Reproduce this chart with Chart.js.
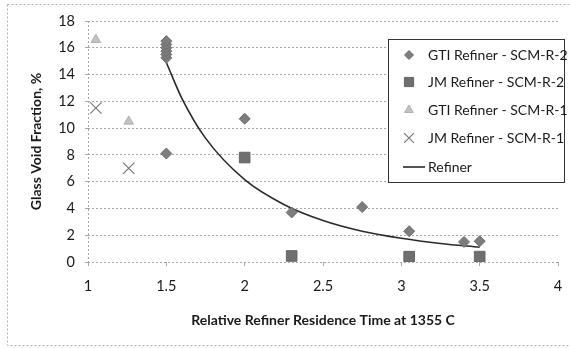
<!DOCTYPE html>
<html>
<head>
<meta charset="utf-8">
<script src="https://cdn.jsdelivr.net/npm/chart.js@4.4.1/dist/chart.umd.min.js"></script>
<style>
  html, body { margin: 0; padding: 0; background: #fff; }
  #wrap { width: 570px; height: 349px; }
</style>
</head>
<body>
<div id="wrap"><canvas id="chart" width="570" height="349"></canvas></div>
<script>
// series
const gtiR2X = [1.5, 1.5, 1.5, 1.5, 1.5, 1.5, 1.5, 2, 2.3, 2.75, 3.05, 3.4, 3.5];
const gtiR2Y = [15.25, 15.5, 15.75, 16.0, 16.25, 16.5, 8.1, 10.7, 3.7, 4.1, 2.3, 1.5, 1.55];
const jmR2X = [2, 2.3, 3.05, 3.5];
const jmR2Y = [7.8, 0.45, 0.4, 0.4];
const gtiR1X = [1.05, 1.26];
const gtiR1Y = [16.6, 10.5];
const jmR1X = [1.05, 1.26];
const jmR1Y = [11.5, 7.0];
// refiner curve, points
const refinerX = [1.5, 1.6, 1.75, 2, 2.25, 2.5, 2.75, 3, 3.25, 3.5];
const refinerY = [14.9, 12.2, 9.25, 6.15, 4.3, 3.1, 2.3, 1.77, 1.38, 1.1];

const seriesLabels = ['GTI Refiner - SCM-R-2', 'JM Refiner - SCM-R-2', 'GTI Refiner - SCM-R-1', 'JM Refiner - SCM-R-1', 'Refiner'];
const xTitle = 'Relative Refiner Residence Time at 1355 C';
const yTitle = 'Glass Void Fraction, %';

const pts = (xs, ys) => xs.map((x, i) => ({x: x, y: ys[i]}));

const FONT = 'Lato, "Liberation Sans", sans-serif';

// frame around the whole picture
const framePlugin = {
  id: 'frame',
  beforeDraw(chart) {
    const ctx = chart.ctx;
    ctx.save();
    ctx.strokeStyle = '#b0b0b0';
    ctx.lineWidth = 1;
    ctx.setLineDash([2, 2]);
    ctx.strokeRect(7.5, 4.5, 566, 341);
    ctx.restore();
  }
};

// legend box floating inside the plot
const boxLegend = {
  id: 'boxLegend',
  afterDraw(chart) {
    const ctx = chart.ctx;
    const left = 388, top = 39, right = 564, bottom = 182;
    ctx.save();
    ctx.fillStyle = '#fff';
    ctx.fillRect(left, top, right - left, bottom - top);
    ctx.strokeStyle = '#333';
    ctx.lineWidth = 1;
    ctx.strokeRect(left + 0.5, top + 0.5, right - left, bottom - top);
    const rows = [55, 82, 110, 138, 167];
    ctx.font = '14px ' + FONT;
    ctx.textBaseline = 'middle';
    chart.data.datasets.forEach((ds, i) => {
      const y = rows[i];
      if (ds.type === 'line') {
        ctx.strokeStyle = ds.borderColor;
        ctx.lineWidth = ds.borderWidth;
        ctx.beginPath();
        ctx.moveTo(403, y);
        ctx.lineTo(425, y);
        ctx.stroke();
      } else {
        ctx.fillStyle = ds.backgroundColor;
        ctx.strokeStyle = ds.borderColor;
        ctx.lineWidth = ds.borderWidth;
        Chart.helpers.drawPoint(ctx, {pointStyle: ds.pointStyle, radius: ds.legendRadius, borderWidth: ds.borderWidth}, 409, y);
      }
      ctx.fillStyle = '#1a1a1a';
      ctx.fillText(ds.label, 428, y);
    });
    ctx.restore();
  }
};

new Chart(document.getElementById('chart'), {
  type: 'scatter',
  plugins: [framePlugin, boxLegend],
  data: {
    datasets: [
      {
        label: seriesLabels[0], data: pts(gtiR2X, gtiR2Y),
        pointStyle: 'rectRot', pointRadius: 5.5, legendRadius: 4.5,
        backgroundColor: '#7d7d7d', borderColor: '#6e6e6e', borderWidth: 1
      },
      {
        label: seriesLabels[1], data: pts(jmR2X, jmR2Y),
        pointStyle: 'rect', pointRadius: 7.5, legendRadius: 6.5,
        backgroundColor: '#6f6f6f', borderColor: '#666', borderWidth: 1
      },
      {
        label: seriesLabels[2], data: pts(gtiR1X, gtiR1Y),
        pointStyle: 'triangle', pointRadius: 5.5, legendRadius: 5,
        backgroundColor: '#c2c2c2', borderColor: '#b0b0b0', borderWidth: 1
      },
      {
        label: seriesLabels[3], data: pts(jmR1X, jmR1Y),
        pointStyle: 'crossRot', pointRadius: 8, legendRadius: 7,
        backgroundColor: '#777', borderColor: '#777', borderWidth: 1.2
      },
      {
        type: 'line', label: seriesLabels[4], data: pts(refinerX, refinerY),
        borderColor: '#2a2a2a', borderWidth: 1.6, pointRadius: 0,
        cubicInterpolationMode: 'monotone', fill: false
      }
    ]
  },
  options: {
    responsive: false,
    animation: false,
    layout: { padding: { left: 0, right: 12, top: 21, bottom: 0 } },
    plugins: { legend: { display: false }, tooltip: { enabled: false } },
    scales: {
      x: {
        type: 'linear', min: 1, max: 4,
        ticks: { stepSize: 0.5, padding: 12, color: '#1a1a1a', font: { family: FONT, size: 14.5 },
          callback: (v) => String(v) },
        grid: {
          color: (c) => c.tick && c.tick.value === 1 ? '#a8a8a8' : 'rgba(0,0,0,0)',
          tickColor: '#a8a8a8', tickLength: 4, lineWidth: 1
        },
        border: { display: false, dash: [2, 2] },
        title: { display: true, text: xTitle, color: '#1a1a1a', font: { family: FONT, size: 14, weight: 'bold' }, padding: { top: 0, bottom: 20 } },
        // keep the plot edge where the picture has it
        afterFit: (s) => { s.height = 87; s.paddingLeft = 0; s.paddingRight = 4; }
      },
      y: {
        min: 0, max: 18,
        ticks: { stepSize: 2, padding: 10, color: '#1a1a1a', font: { family: FONT, size: 14.5 } },
        grid: { color: '#a8a8a8', tickColor: '#a8a8a8', tickLength: 3, lineWidth: 1 },
        border: { display: false, dash: [2, 2] },
        title: { display: true, text: yTitle, color: '#1a1a1a', font: { family: FONT, size: 14, weight: 'bold' }, padding: { top: 28, bottom: 0 } },
        afterFit: (s) => { s.width = 88; }
      }
    }
  }
});
</script>
</body>
</html>
